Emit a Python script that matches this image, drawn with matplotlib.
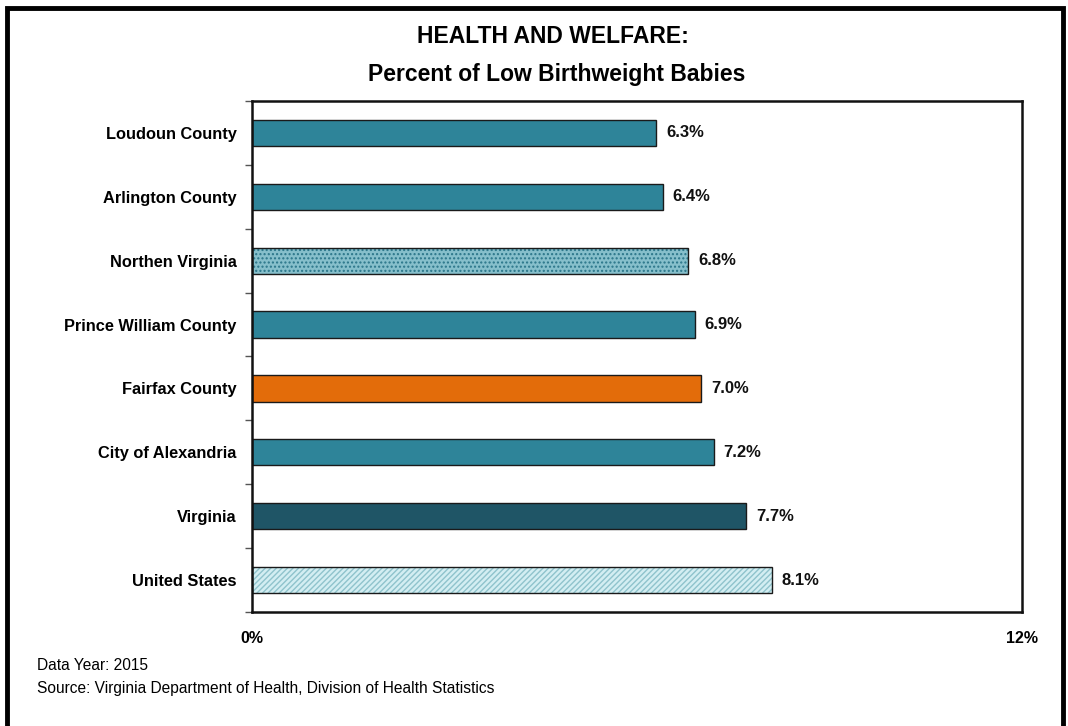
import matplotlib.pyplot as plt
from matplotlib.patches import Rectangle

plt.rcParams["font.family"] = ["Liberation Sans", "DejaVu Sans"]

areas = ["Loudoun County", "Arlington County", "Northen Virginia",
         "Prince William County", "Fairfax County", "City of Alexandria",
         "Virginia", "United States"]
values = [6.3, 6.4, 6.8, 6.9, 7.0, 7.2, 7.7, 8.1]
colors = ["#2E8499", "#2E8499", "#86BFCB", "#2E8499", "#E36C0A",
          "#2E8499", "#1F5566", "#D3EEF2"]
hatches = [None, None, "....", None, None, None, None, "//////"]
hatch_colors = [None, None, "#2A7589", None, None, None, None, "#8FC3CC"]


def main():
    fig = plt.figure(figsize=(10.68, 7.26), dpi=100)
    ax = fig.add_axes([0.236, 0.157, 0.721, 0.704])

    ypos = list(range(len(areas)))
    for y, v, c, h, hc in zip(ypos, values, colors, hatches, hatch_colors):
        if h:
            ax.barh(y, v, height=0.41, color=c, hatch=h, edgecolor=hc, linewidth=0)
            ax.barh(y, v, height=0.41, fill=False, edgecolor="#1a1a1a", linewidth=1.0)
        else:
            ax.barh(y, v, height=0.41, color=c, edgecolor="#1a1a1a", linewidth=1.0)
        ax.text(v + 0.15, y, f"{v:.1f}%", va="center", ha="left",
                fontsize=12, fontweight="bold", color="#111111")

    ax.set_xlim(0, 12)
    ax.set_ylim(len(areas) - 0.5, -0.5)
    ax.set_xticks([0, 12])
    ax.set_xticklabels(["0%", "12%"], fontsize=11.5, fontweight="bold")
    ax.tick_params(axis="x", length=0, pad=14)

    # category labels, ticks sit between the bars
    ax.set_yticks(ypos)
    ax.set_yticklabels(areas, fontsize=11.8, fontweight="bold")
    ax.tick_params(axis="y", which="major", length=0, pad=11)
    ax.set_yticks([i - 0.5 for i in range(len(areas) + 1)], minor=True)
    ax.tick_params(axis="y", which="minor", length=5, width=1, color="#555555")

    for s in ax.spines.values():
        s.set_linewidth(1.8)
        s.set_color("#111111")

    fig.text(0.518, 0.950, "HEALTH AND WELFARE:", ha="center", va="center",
             fontsize=16.5, fontweight="bold")
    fig.text(0.521, 0.898, "Percent of Low Birthweight Babies", ha="center",
             va="center", fontsize=16.5, fontweight="bold")

    fig.text(0.035, 0.084, "Data Year: 2015", fontsize=11.2, va="center")
    fig.text(0.035, 0.052,
             "Source: Virginia Department of Health, Division of Health Statistics",
             fontsize=11.2, va="center")

    # outer frame, runs off the bottom edge
    fig.patches.append(Rectangle((0.007, -0.05), 0.988, 1.039,
                                 transform=fig.transFigure, fill=False,
                                 edgecolor="black", linewidth=3.5))

    plt.savefig("out.png", dpi=100)


if __name__ == "__main__":
    main()
